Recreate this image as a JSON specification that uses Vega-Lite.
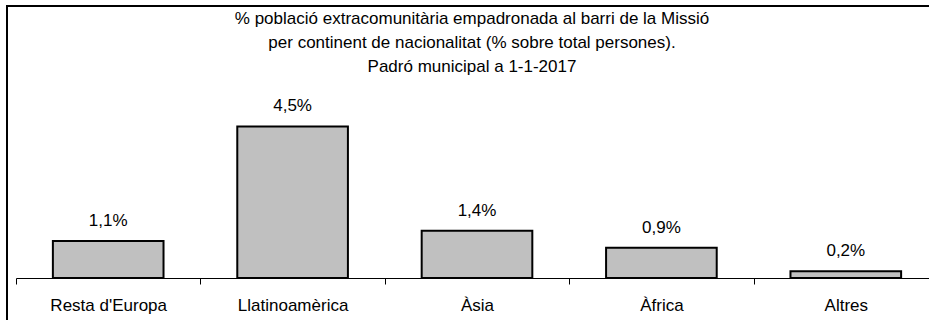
{
  "$schema": "https://vega.github.io/schema/vega-lite/v6.json",
  "autosize": {"type": "none"},
  "padding": {"left": 7, "top": 6, "right": 0, "bottom": 0},
  "width": 940,
  "height": 330,
  "background": "white",
  "title": {
    "text": ["% població extracomunitària empadronada al barri de la Missió", "per continent de nacionalitat (% sobre total persones).", "Padró municipal a 1-1-2017"],
    "frame": "group",
    "anchor": "middle",
    "orient": "top",
    "baseline": "top",
    "offset": -70,
    "dx": -5,
    "font": "Liberation Sans",
    "fontSize": 17,
    "fontWeight": "normal",
    "lineHeight": 24,
    "color": "black"
  },
  "data": {
    "values": [
      {"continent": "Resta d'Europa", "pct": 0.011},
      {"continent": "Llatinoamèrica", "pct": 0.045},
      {"continent": "Àsia", "pct": 0.014},
      {"continent": "Àfrica", "pct": 0.009},
      {"continent": "Altres", "pct": 0.002}
    ]
  },
  "encoding": {
    "x": {
      "field": "continent",
      "type": "nominal",
      "sort": null,
      "scale": {"range": [9, 931], "paddingInner": 0, "paddingOuter": 0},
      "axis": {
        "orient": "bottom",
        "offset": -58,
        "title": null,
        "labelAngle": 0,
        "grid": false,
        "domainColor": "black",
        "domainWidth": 1,
        "tickColor": "black",
        "tickWidth": 1,
        "tickSize": 6,
        "tickBand": "extent",
        "labelFont": "Liberation Sans",
        "labelFontSize": 17,
        "labelColor": "black",
        "labelPadding": 13
      }
    },
    "y": {
      "field": "pct",
      "type": "quantitative",
      "scale": {"domain": [-0.017228, 0.080792], "nice": false, "zero": false},
      "axis": null
    }
  },
  "layer": [
    {
      "mark": {"type": "bar", "width": {"band": 0.6}, "fill": "#c0c0c0", "stroke": "black", "strokeWidth": 2}
    },
    {
      "mark": {"type": "text", "baseline": "alphabetic", "align": "center", "dy": -15, "font": "Liberation Sans", "fontSize": 17, "color": "black"},
      "encoding": {
        "text": {"field": "pct", "type": "quantitative", "format": ".1%"}
      }
    }
  ],
  "config": {
    "view": {"stroke": "black", "strokeWidth": 2},
    "locale": {"number": {"decimal": ",", "thousands": ".", "grouping": [3], "currency": ["", " €"]}}
  }
}
